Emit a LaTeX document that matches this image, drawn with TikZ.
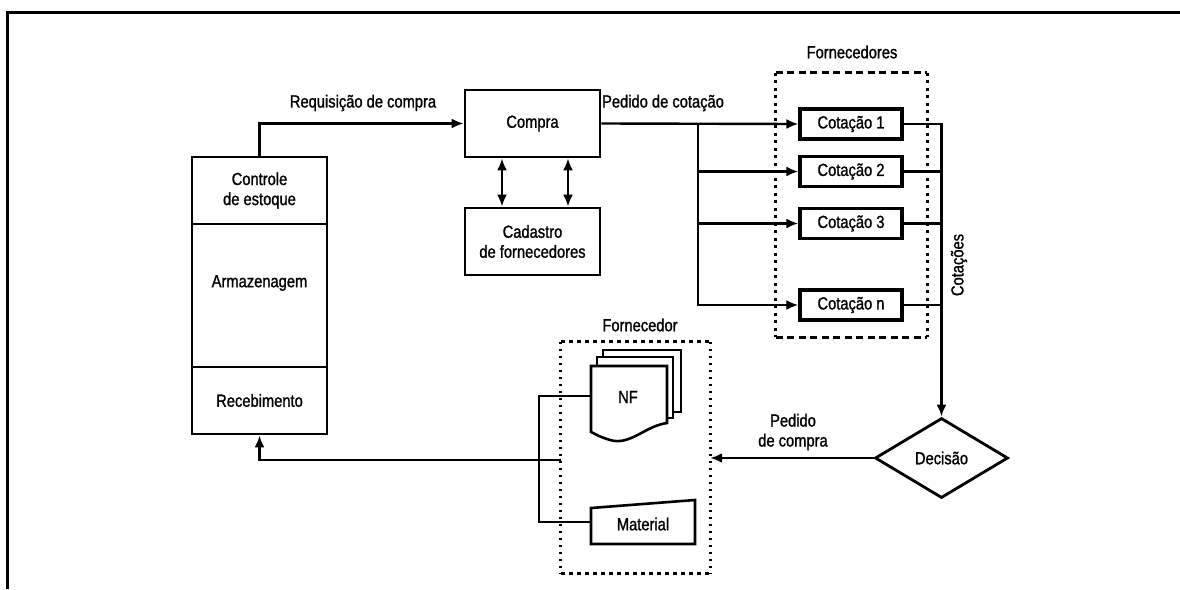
\documentclass[tikz,border=0pt]{standalone}
\usepackage{fontspec}
\setmainfont{Liberation Sans}[FakeStretch=0.84,FakeBold=1.2]
\usetikzlibrary{arrows.meta,shapes.geometric}
\begin{document}
\begin{tikzpicture}[x=1pt,y=-1pt,
  font=\fontsize{17.5}{20}\selectfont,
  box/.style={draw, line width=2.8pt, minimum width=135pt, minimum height=67pt, inner sep=0pt, align=center},
  qbox/.style={draw, line width=3.2pt, minimum width=102pt, minimum height=30pt, inner sep=0pt},
  lbl/.style={inner sep=0pt, align=center},
  wire/.style={line width=2.4pt},
  arr/.style={wire, -{Latex[length=12pt,width=10pt]}},
  darr/.style={wire, {Latex[length=12pt,width=10pt]}-{Latex[length=12pt,width=10pt]}},
  dashh/.style={line width=3pt, dash pattern=on 7pt off 4.5pt},
  dashv/.style={line width=3pt, dash pattern=on 3pt off 4.5pt},
  doth/.style={line width=2.8pt, dash pattern=on 4.5pt off 3.5pt},
  dotv/.style={line width=2.8pt, dash pattern=on 2.5pt off 4.5pt}]
\useasboundingbox (0,0) rectangle (1180,589);

% outer frame (top and left edges)
\draw[line width=3pt] (7,589) -- (7,12) -- (1180,12);

% stock column
\node[box] (ctrl) at (259.5,190.5) {Controle\\de estoque};
\node[box, minimum height=143pt] (arm) at (259.5,295.5) {};
\node[lbl] (armt) at (259.5,283) {Armazenagem};
\node[box] (rec) at (259.5,400.5) {Recebimento};

% purchasing
\node[box] (compra) at (532.5,123.5) {Compra};
\node[box] (cad) at (532.5,241.5) {Cadastro\\de fornecedores};
\draw[darr] ([xshift=-30.5pt]compra.south) -- ([xshift=-30.5pt]cad.north);
\draw[darr] ([xshift=35.5pt]compra.south) -- ([xshift=35.5pt]cad.north);

\draw[arr] (ctrl.north) |- (compra.west);
\node[lbl] (lreq) at (363,103) {Requisição de compra};

% suppliers' quotations
\node[qbox] (c1) at (851,124) {Cotação 1};
\node[qbox] (c2) at (851,171.5) {Cotação 2};
\node[qbox] (c3) at (851,223.5) {Cotação 3};
\node[qbox] (cn) at (851,305) {Cotação n};

\node[minimum width=151pt, minimum height=264pt, inner sep=0pt] (forns) at (851.5,205) {};
\draw[dashh] (forns.north west) -- (forns.north east);
\draw[dashh] (forns.south west) -- (forns.south east);
\draw[dashv] (forns.north west) -- (forns.south west);
\draw[dashv] (forns.north east) -- (forns.south east);
\node[lbl] (lforns) at (852,52) {Fornecedores};

\coordinate (br) at (698,124);
\draw[arr] (compra.east) -- (c1.west);
\draw[arr] (br) |- (c2.west);
\draw[arr] (br) |- (c3.west);
\draw[arr] (br) |- (cn.west);
\node[lbl] (lped) at (663,103) {Pedido de cotação};

% decision
\node[diamond, draw, line width=2.8pt, minimum width=133pt, minimum height=80pt, inner sep=0pt] (dec) at (941.5,458) {Decisão};
\draw[arr] (c1.east) -| (dec.north);
\draw[wire] (c2.east) -- (c2.east -| dec.north);
\draw[wire] (c3.east) -- (c3.east -| dec.north);
\draw[wire] (cn.east) -- (cn.east -| dec.north);
\node[lbl, rotate=90] (lcot) at (959,265) {Cotações};

% chosen supplier
\node[minimum width=149pt, minimum height=231pt, inner sep=0pt] (forn) at (635.5,457.5) {};
\draw[doth] (forn.north west) -- (forn.north east);
\draw[doth] (forn.south west) -- (forn.south east);
\draw[dotv] (forn.north west) -- (forn.south west);
\draw[dotv] (forn.north east) -- (forn.south east);
\node[lbl] (lforn) at (640,325) {Fornecedor};

\draw[arr] (dec.west) -- (dec.west -| forn.east);
\node[lbl] (lpc) at (793,432) {Pedido\\de compra};

% invoice stack (NF)
\draw[line width=2.6pt, fill=white] (603,350) -- (681,350) -- (681,412) -- (603,412) -- cycle;
\draw[line width=2.6pt, fill=white] (597,357) -- (673,357) -- (673,418) -- (597,418) -- cycle;
\draw[line width=2.6pt, fill=white] (591,366) -- (667,366) -- (667,423)
  .. controls (645,426) and (630,446) .. (610,440)
  .. controls (600,437) and (595,434) .. (591,432) -- cycle;
\node[lbl] (nft) at (628,397) {NF};
\coordinate (nfw) at (591,396);

% material (manual input shape)
\draw[line width=2.6pt] (591,508) -- (695,500) -- (695,544) -- (591,544) -- cycle;
\node[lbl] (matt) at (643,524) {Material};
\coordinate (matw) at (591,522);

% return to receiving
\coordinate (brk) at (539,460);
\coordinate (fin) at (561,460);
\draw[wire] (nfw) -| (brk) |- (matw);
\draw[arr] (fin) -| (rec.south);
\end{tikzpicture}
\end{document}
